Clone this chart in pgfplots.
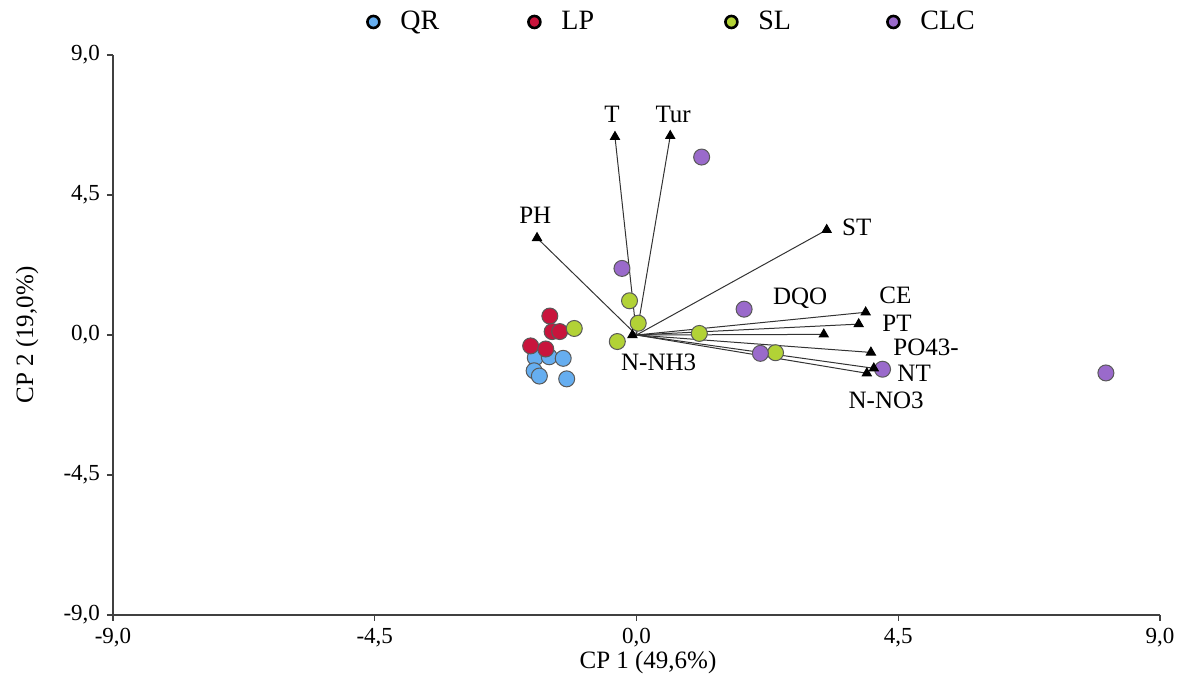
\documentclass[border=0pt]{standalone}
\usepackage{fontspec}
\setmainfont{Liberation Serif}
\usepackage{pgfplots}
\pgfplotsset{compat=1.18}
\definecolor{cqr}{HTML}{66AEF0}
\definecolor{clp}{HTML}{C8143C}
\definecolor{csl}{HTML}{B2D236}
\definecolor{cclc}{HTML}{9A6ACB}
\begin{document}
\begin{tikzpicture}
\useasboundingbox (-56.5pt,-36.5pt) rectangle (538pt,307.5pt);
\begin{axis}[
  at={(0,0)}, anchor=south west,
  scale only axis, width=523.5pt, height=280pt,
  xmin=-9, xmax=9, ymin=-9, ymax=9,
  xtick={-9,-4.5,0,4.5,9}, ytick={-9,-4.5,0,4.5,9},
  axis x line*=bottom, axis y line*=left,
  axis line style={black!75, line width=0.7pt},
  tick style={black!75, line width=0.7pt},
  tick align=outside, major tick length=3pt,
  ticklabel style={font=\fontsize{11.5}{13}\selectfont},
  /pgf/number format/.cd, fixed, fixed zerofill, precision=1, use comma, assume math mode=true,
  /pgfplots/.cd,
  xlabel={CP 1 (49,6\%)}, ylabel={CP 2 (19,0\%)},
  label style={font=\fontsize{12.5}{14}\selectfont},
  xlabel style={at={(axis description cs:0.511,-0.084)}, anchor=center},
  ylabel style={at={(axis description cs:-0.0821,0.5)}, anchor=center, rotate=0},
  clip=false,
  legend columns=4,
  legend style={draw=none, fill=none, inner sep=0pt, at={(axis description cs:0.2407,1.059)}, anchor=west,
    font=\fontsize{14}{16}\selectfont},
  legend image code/.code={\path[draw=none, fill=none] (-4pt,0pt) -- (11.5pt,0pt); \path[#1, draw=none] (0pt,0pt); \draw[only marks, mark=*, mark size=3pt, line width=1.3pt, draw=black, #1] plot coordinates {(0pt,0pt)};},
]
% QR
\addplot[only marks, mark=*, mark size=4pt, line width=0.5pt, draw=black!65, fill=cqr, legend image post style={draw=black, line width=1.3pt, mark size=3pt}] coordinates {
(-1.74,-0.73) (-1.50,-0.70) (-1.26,-0.75) (-1.76,-1.15) (-1.67,-1.32) (-1.20,-1.41)
};
% LP
\addplot[only marks, mark=*, mark size=4pt, line width=0.5pt, draw=black!65, fill=clp, legend image post style={draw=black, line width=1.3pt, mark size=3pt}] coordinates {
(-1.49,0.61) (-1.45,0.11) (-1.32,0.11) (-1.82,-0.35) (-1.56,-0.45)
};
% SL
\addplot[only marks, mark=*, mark size=4pt, line width=0.5pt, draw=black!65, fill=csl, legend image post style={draw=black, line width=1.3pt, mark size=3pt}] coordinates {
(-1.07,0.21) (-0.12,1.10) (0.03,0.38) (-0.33,-0.21) (1.08,0.05) (2.39,-0.57)
};
% CLC
\addplot[only marks, mark=*, mark size=4pt, line width=0.5pt, draw=black!65, fill=cclc, legend image post style={draw=black, line width=1.3pt, mark size=3pt}] coordinates {
(1.12,5.72) (-0.25,2.14) (1.85,0.83) (2.13,-0.59) (4.23,-1.10) (8.07,-1.22)
};
\legend{\makebox[61pt][l]{QR},\makebox[79pt][l]{LP},\makebox[61.5pt][l]{SL},CLC}
% vectors
\pgfplotsset{vec/.style={forget plot, black!80, line width=0.5pt, mark=triangle*, mark indices={2}, mark size=2.6pt, mark options={fill=black, draw=black, solid}}}
\addplot[vec] coordinates {(0,0) (-0.37,6.37)};
\addplot[vec] coordinates {(0,0) (0.58,6.40)};
\addplot[vec] coordinates {(0,0) (-1.71,3.12)};
\addplot[vec] coordinates {(0,0) (3.27,3.38)};
\addplot[vec] coordinates {(0,0) (3.94,0.73)};
\addplot[vec] coordinates {(0,0) (3.82,0.35)};
\addplot[vec] coordinates {(0,0) (3.22,0.02)};
\addplot[vec] coordinates {(0,0) (4.03,-0.56)};
\addplot[vec] coordinates {(0,0) (4.08,-1.07)};
\addplot[vec] coordinates {(0,0) (3.96,-1.23)};
\addplot[vec] coordinates {(0,0) (-0.07,0.0)};
% labels
\begin{scope}[every node/.style={font=\fontsize{12.5}{14}\selectfont, inner sep=0pt}]
\node at (axis cs:-0.42,7.1) {T};
\node at (axis cs:0.63,7.1) {Tur};
\node at (axis cs:-1.74,3.86) {PH};
\node[anchor=west] at (axis cs:3.53,3.47) {ST};
\node[anchor=west] at (axis cs:2.34,1.19) {DQO};
\node[anchor=west] at (axis cs:4.17,1.29) {CE};
\node[anchor=west] at (axis cs:4.22,0.39) {PT};
\node[anchor=west] at (axis cs:4.41,-0.39) {PO43-};
\node[anchor=west] at (axis cs:4.48,-1.22) {NT};
\node[anchor=west] at (axis cs:3.64,-2.09) {N-NO3};
\node[anchor=west] at (axis cs:-0.27,-0.87) {N-NH3};
\end{scope}
\end{axis}
\end{tikzpicture}
\end{document}
